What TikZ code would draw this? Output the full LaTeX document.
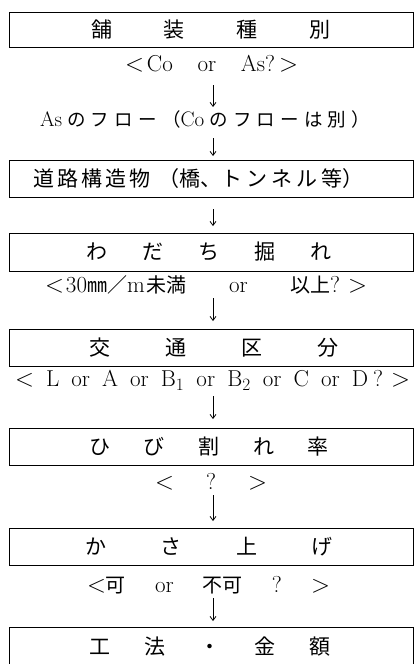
\documentclass[tikz,border=0pt]{standalone}
\usepackage{fontspec}
\newfontfamily\jp{Noto Sans CJK JP}
\newcommand\jsize{20}
\newcommand\J[1]{{\jp\fontsize{\jsize}{24}\selectfont #1}}
\usetikzlibrary{arrows.meta}
\tikzset{
  box/.style={draw, line width=1pt, minimum width=404pt, minimum height=37pt,
    inner sep=0pt, font=\jp\fontsize{21}{24}\selectfont},
  lbl/.style={inner sep=0pt, font=\fontsize{23}{26}\selectfont},
  arr/.style={line width=0.8pt, -{Straight Barb[length=4pt,width=6pt]}},
}
\begin{document}
\begin{tikzpicture}[x=1pt,y=-1pt]
\useasboundingbox (0,0) rectangle (414,664);
\clip (0,0) rectangle (414,664);

% boxes
\node[box, minimum height=35pt] (b1) at (211,29.5) {\makebox[240pt]{舗\hfill 装\hfill 種\hfill 別}};
\node[box] (b2) at (211,178.5) {\hspace*{-24pt}\makebox[320pt]{道\hspace{3pt}路\hspace{3pt}構\hspace{3pt}造\hspace{3pt}物\hspace{8pt}（橋、ト\hspace{4pt}ン\hspace{4pt}ネ\hspace{4pt}ル\hspace{4pt}等）}};
\node[box, minimum height=38pt] (b3) at (211,252) {\hspace*{-4pt}\makebox[246pt]{わ\hfill だ\hfill ち\hfill 掘\hfill れ}};
\node[box] (b4) at (211,347.5) {\hspace*{6pt}\makebox[250pt]{交\hfill 通\hfill 区\hfill 分}};
\node[box] (b5) at (211,446.5) {\hspace*{-4pt}\makebox[240pt]{ひ\hfill び\hfill 割\hfill れ\hfill 率}};
\node[box] (b6) at (211,546.5) {\hspace*{-4pt}\makebox[248pt]{か\hfill さ\hfill 上\hfill げ}};
\node[box, minimum height=40pt] (b7) at (211,647) {\hspace*{-2pt}\makebox[242pt]{工\hfill 法\hfill ・\hfill 金\hfill 額}};

% text lines
\node[lbl] (t1) at (211.5,64) {\makebox[173pt]{$<$\hspace{3pt}Co\hfill or\hfill As?\hspace{4pt}$>$}};
\node[lbl, font=\fontsize{21}{24}\selectfont] (t2) at (205,119) {\renewcommand\jsize{18.5}\makebox[330pt]{As\hfill\J{の}\hfill\J{フ}\hfill\J{ロ}\hfill\J{ー}\hfill\J{（}Co\hfill\J{の}\hfill\J{フ}\hfill\J{ロ}\hfill\J{ー}\hfill\J{は}\hfill\J{別}\hfill\J{）}}};
\node[lbl] (t3) at (206,285) {\makebox[322pt]{$<$\hspace{2pt}30\J{㎜／}m\hspace{2pt}\J{未満}\hfill or\hfill\J{以上}?\hspace{8pt}$>$}};
\node[lbl] (t4) at (212.5,380) {\makebox[395pt]{$<$\hfill L\hfill or\hfill A\hfill or\hfill B$_1$\hfill or\hfill B$_2$\hfill or\hfill C\hfill or\hfill D\hspace{5pt}?\hspace{8pt}$>$}};
\node[lbl] (t5) at (211,482) {\makebox[112pt]{$<$\hfill ?\hfill $>$}};
\node[lbl] (t6) at (208.5,585) {\makebox[243pt]{$<$\J{可}\hfill or\hfill\J{不可}\hfill ?\hfill $>$}};

% arrows
\coordinate (a1s) at (213,85);  \coordinate (a1e) at (213,107);
\coordinate (a2s) at (213,138); \coordinate (a2e) at (213,156);
\coordinate (a3s) at (213,209); \coordinate (a3e) at (213,226);
\coordinate (a4s) at (213,298); \coordinate (a4e) at (213,321);
\coordinate (a5s) at (213,396); \coordinate (a5e) at (213,419);
\coordinate (a6s) at (213,495); \coordinate (a6e) at (213,521);
\coordinate (a7s) at (213,598); \coordinate (a7e) at (213,621);
\foreach \i in {1,...,7} {\draw[arr] (a\i s) -- (a\i e);}
\end{tikzpicture}
\end{document}
